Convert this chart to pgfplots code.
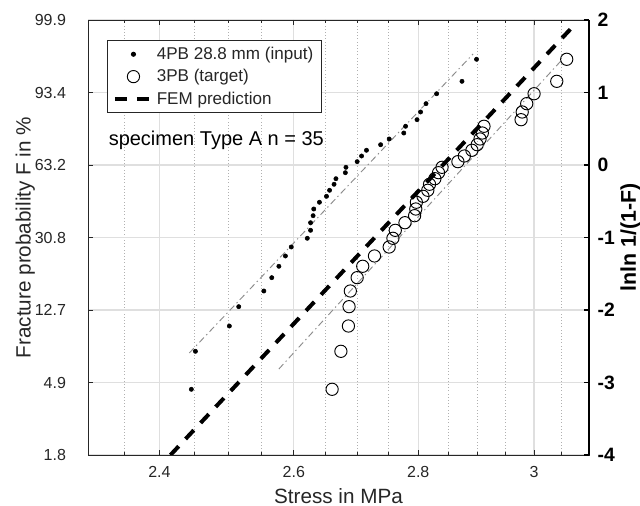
\documentclass[border=0pt]{standalone}
\usepackage{fontspec}
\setmainfont{Liberation Sans}
\usepackage{pgfplots}
\pgfplotsset{compat=1.18}
\definecolor{axgray}{HTML}{262626}
\definecolor{gridc}{HTML}{DFDFDF}
\definecolor{minorc}{HTML}{B0B0B0}
\definecolor{fitc}{HTML}{8C8C8C}
\begin{document}
\begin{tikzpicture}
\path[use as bounding box] (-66pt,-38.25pt) rectangle (414pt,341.25pt);
\begin{axis}[
  at={(0,0)}, anchor=south west,
  scale only axis, width=375.75pt, height=326.25pt,
  xmode=log, xmin=2.3, xmax=3.1, ymin=-4, ymax=2,
  xtick={2.4,2.6,2.8,3}, xticklabels={2.4,2.6,2.8,3},
  minor xtick={2.35,2.45,2.5,2.55,2.65,2.7,2.75,2.85,2.9,2.95,3.05},
  ytick={-4,-3,-2,-1,0,1,2},
  yticklabels={1.8,4.9,12.7,30.8,63.2,93.4,99.9},
  ytick pos=left,
  tick align=inside, major tick length=4pt, minor tick length=2.5pt,
  grid=both,
  major grid style={gridc, line width=0.9pt},
  minor grid style={minorc, dotted, line width=0.6pt},
  axis line style={axgray, line width=0.6pt},
  every tick/.style={axgray, line width=0.6pt},
  tick label style={font=\fontsize{12}{14}\selectfont, text=axgray},
  xticklabel style={yshift=-5pt},
  yticklabel style={xshift=-13pt},
  xlabel={Stress in MPa},
  ylabel={Fracture probability F in \%},
  label style={font=\fontsize{15.5}{18}\selectfont, text=axgray},
  xlabel style={at={([yshift=-30.5pt]axis description cs:0.5,0)}, anchor=center},
  ylabel style={at={([xshift=-47pt]axis description cs:0,0.5)}, anchor=center},
  legend style={at={(0.038,0.954)}, anchor=north west, draw=axgray, line width=0.6pt,
    font=\fontsize{12.8}{15}\selectfont, text=axgray, cells={anchor=west},
    inner xsep=4pt, inner ysep=3pt, row sep=2pt},
  legend image code/.code={\draw[mark repeat=2, mark phase=2, #1] plot coordinates {(0pt,0pt) (14pt,0pt) (28pt,0pt)};},
]
% Weibull fit lines
\addplot[fitc, line width=0.7pt, dash pattern=on 5pt off 2.5pt on 1pt off 2.5pt, forget plot]
  coordinates {(2.443,-2.593) (2.893,1.531)};
\addplot[fitc, line width=0.7pt, dash pattern=on 5pt off 2.5pt on 1pt off 2.5pt, forget plot]
  coordinates {(2.577,-2.814) (3.050,1.448)};
% 4PB input
\addplot[only marks, mark=*, mark size=1.6pt, black] coordinates {
  (2.446,-3.094) (2.452,-2.570) (2.502,-2.221) (2.516,-1.954) (2.554,-1.738)
  (2.566,-1.554) (2.577,-1.397) (2.587,-1.255) (2.596,-1.131) (2.621,-1.011)
  (2.626,-0.901) (2.626,-0.796) (2.630,-0.699) (2.631,-0.607) (2.640,-0.514)
  (2.651,-0.432) (2.656,-0.349) (2.663,-0.266) (2.666,-0.189) (2.681,-0.106)
  (2.682,-0.032) (2.700,0.046) (2.707,0.124) (2.715,0.203) (2.738,0.280)
  (2.752,0.359) (2.776,0.441) (2.779,0.534) (2.798,0.625) (2.804,0.731)
  (2.813,0.846) (2.831,0.983) (2.874,1.154) (2.899,1.458)};
% 3PB target
\addplot[only marks, mark=o, mark size=4.6pt, black, line width=0.7pt] coordinates {
  (2.660,-3.094) (2.674,-2.570) (2.686,-2.221) (2.687,-1.954) (2.689,-1.738)
  (2.700,-1.554) (2.709,-1.397) (2.728,-1.255) (2.752,-1.131) (2.758,-1.011)
  (2.762,-0.901) (2.778,-0.796) (2.794,-0.699) (2.796,-0.607) (2.797,-0.514)
  (2.808,-0.432) (2.816,-0.349) (2.819,-0.266) (2.828,-0.189) (2.834,-0.106)
  (2.840,-0.032) (2.867,0.046) (2.878,0.124) (2.891,0.203) (2.900,0.280)
  (2.905,0.359) (2.909,0.441) (2.912,0.534) (2.977,0.625) (2.979,0.731)
  (2.987,0.846) (3.000,0.983) (3.041,1.154) (3.059,1.458)};
% FEM prediction
\addplot[black, line width=3pt, dash pattern=on 9pt off 7.5pt] coordinates {(2.4158,-4) (3.070,1.908)};
\legend{4PB 28.8 mm (input), 3PB (target), FEM prediction}
\node[anchor=west, font=\fontsize{15}{18}\selectfont, text=black] at (rel axis cs:0.032,0.724) {specimen Type A n = 35};
\end{axis}
\begin{axis}[
  at={(0,0)}, anchor=south west,
  scale only axis, width=375.75pt, height=326.25pt,
  xmin=0, xmax=1, ymin=-4, ymax=2,
  axis x line=none, axis y line*=right,
  ytick={-4,-3,-2,-1,0,1,2}, yticklabels={-4,-3,-2,-1,0,1,2},
  tick align=inside, major tick length=4pt,
  y axis line style={black, line width=1.2pt},
  every tick/.style={black, line width=1pt},
  yticklabel style={font=\bfseries\fontsize{14.5}{17}\selectfont, text=black, xshift=3pt},
  ylabel={lnln 1/(1-F)},
  ylabel style={font=\bfseries\fontsize{16}{19}\selectfont, at={([xshift=31pt]axis description cs:1,0.5)}, anchor=center},
]
\end{axis}
\end{tikzpicture}
\end{document}
